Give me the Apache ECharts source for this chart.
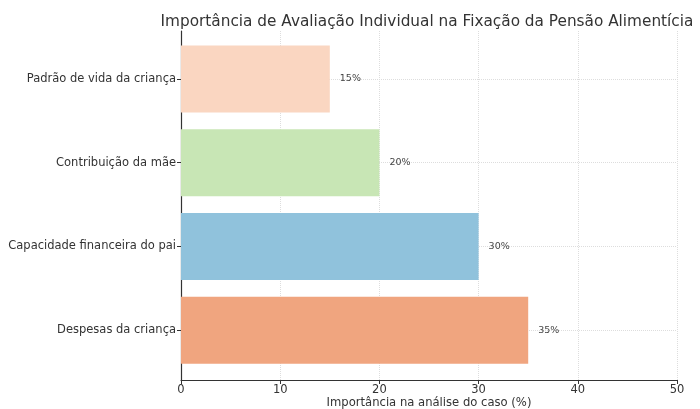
<!DOCTYPE html>
<html>
<head>
<meta charset="utf-8">
<script src="https://cdn.jsdelivr.net/npm/echarts@6/dist/echarts.min.js"></script>
<style>
  html, body { margin: 0; padding: 0; background: #fff; }
  #chart { width: 700px; height: 409px; }
</style>
</head>
<body>
<div id="chart"></div>
<script>
// bottom to top
var categories = ["Despesas da criança", "Capacidade financeira do pai", "Contribuição da mãe", "Padrão de vida da criança"];
var importance = [35, 30, 20, 15];
var barColors = ["#f0a57f", "#90c2dc", "#c8e6b5", "#fad6c1"];
var xTicks = [0, 10, 20, 30, 40, 50];

var font = "DejaVu Sans";
var chart = echarts.init(document.getElementById("chart"));

var option = {
  backgroundColor: "#fff",
  animation: false,
  title: {
    text: "Importância de Avaliação Individual na Fixação da Pensão Alimentícia",
    left: 422,
    textAlign: "center",
    top: 10,
    textStyle: { fontFamily: font, fontSize: 15.3, fontWeight: "normal", color: "#333" }
  },
  grid: [
    { left: 181, right: 23, top: 31, bottom: 29, outerBoundsMode: "none" },
    { left: 181, right: 23, top: 37, bottom: 37, outerBoundsMode: "none" },
    // spans the category centres only, to draw the row gridlines
    { left: 181, right: 23, top: 79, bottom: 79, outerBoundsMode: "none" }
  ],
  xAxis: [
    {
      type: "value",
      gridIndex: 0,
      min: xTicks[0],
      max: xTicks[xTicks.length - 1],
      interval: 10,
      name: "Importância na análise do caso (%)",
      nameLocation: "middle",
      nameGap: 17,
      nameMoveOverlap: false,
      nameTextStyle: { fontFamily: font, fontSize: 11.6, color: "#333" },
      axisLine: { show: true, lineStyle: { color: "#333", width: 1.2 } },
      axisTick: { show: true, length: 4, lineStyle: { color: "#333" } },
      axisLabel: { fontFamily: font, fontSize: 11.5, color: "#333", margin: 4 },
      splitLine: { show: true, lineStyle: { color: "#dddddd", type: "dotted" } }
    },
    {
      type: "value",
      gridIndex: 1,
      min: xTicks[0],
      max: xTicks[xTicks.length - 1],
      show: false
    },
    {
      type: "value",
      gridIndex: 2,
      min: xTicks[0],
      max: xTicks[xTicks.length - 1],
      show: false
    }
  ],
  yAxis: [
    {
      type: "value",
      gridIndex: 0,
      axisLine: { show: true, lineStyle: { color: "#333", width: 1.2 } },
      axisTick: { show: false },
      axisLabel: { show: false },
      splitLine: { show: false }
    },
    {
      type: "category",
      gridIndex: 1,
      data: categories,
      axisLine: { show: false },
      axisTick: { show: true, length: 4, alignWithLabel: true, lineStyle: { color: "#333" } },
      axisLabel: { fontFamily: font, fontSize: 11.5, color: "#333", margin: 5 },
      splitLine: { show: false }
    },
    {
      type: "value",
      gridIndex: 2,
      min: 0,
      max: categories.length - 1,
      interval: 1,
      axisLine: { show: false },
      axisTick: { show: false },
      axisLabel: { show: false },
      splitLine: { show: true, lineStyle: { color: "#dddddd", type: "dotted" } }
    }
  ],
  series: [
    {
      type: "bar",
      xAxisIndex: 1,
      yAxisIndex: 1,
      barCategoryGap: "20%",
      z: 3,
      data: importance.map(function (v, i) {
        return { value: v, itemStyle: { color: barColors[i] } };
      }),
      label: {
        show: true,
        position: "right",
        distance: 10,
        formatter: "{c}%",
        fontFamily: font,
        fontSize: 9.5,
        color: "#444"
      }
    }
  ]
};

chart.setOption(option);
</script>
</body>
</html>
